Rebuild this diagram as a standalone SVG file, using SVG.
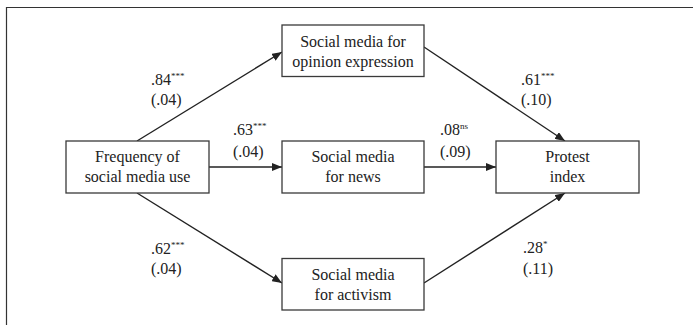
<svg xmlns="http://www.w3.org/2000/svg" width="693" height="325" viewBox="0 0 693 325">
<style>
.box{fill:#fff;stroke:#3a3a3a;stroke-width:1.3}
.t{font-family:"Liberation Serif","Times New Roman",serif;font-size:16px;fill:#222}
.c{text-anchor:middle}
.sup{font-size:9px}
.ln{stroke:#222;stroke-width:1.4;fill:none;marker-end:url(#ah)}
</style>
<defs>
<marker id="ah" viewBox="0 0 10 8" refX="10" refY="4" markerWidth="10" markerHeight="8" markerUnits="userSpaceOnUse" orient="auto">
<path d="M0,0 L10,4 L0,8 Z" fill="#222"/>
</marker>
</defs>
<rect width="693" height="325" fill="#fff"/>
<path d="M6.5,330 V7.5 H700" fill="none" stroke="#333" stroke-width="1.2"/>
<g id="connectors">
<line class="ln" x1="137" y1="141" x2="282" y2="52"/>
<line class="ln" x1="209" y1="167" x2="282" y2="167"/>
<line class="ln" x1="137" y1="193" x2="282" y2="283"/>
<line class="ln" x1="424" y1="47" x2="565" y2="141"/>
<line class="ln" x1="424" y1="167" x2="496" y2="167"/>
<line class="ln" x1="424" y1="283" x2="565" y2="193"/>
</g>
<g id="labels">
<text class="t" x="151" y="85">.84<tspan class="sup" dy="-6">***</tspan></text>
<text class="t" x="151" y="105">(.04)</text>
<text class="t" x="233" y="135">.63<tspan class="sup" dy="-6">***</tspan></text>
<text class="t" x="233" y="156.5">(.04)</text>
<text class="t" x="151" y="254">.62<tspan class="sup" dy="-6">***</tspan></text>
<text class="t" x="151" y="274">(.04)</text>
<text class="t" x="521" y="85">.61<tspan class="sup" dy="-6">***</tspan></text>
<text class="t" x="521" y="104.5">(.10)</text>
<text class="t" x="440" y="135">.08<tspan class="sup" dy="-6">ns</tspan></text>
<text class="t" x="440" y="156.5">(.09)</text>
<text class="t" x="523" y="253">.28<tspan class="sup" dy="-6">*</tspan></text>
<text class="t" x="523" y="273.5">(.11)</text>
</g>
<g id="freq">
<rect class="box" x="66" y="141" width="143" height="52"/>
<text class="t c" x="137.5" y="161.7">Frequency of</text>
<text class="t c" x="137.5" y="181.7">social media use</text>
</g>
<g id="opinion">
<rect class="box" x="282" y="25" width="142" height="51.5"/>
<text class="t c" x="353" y="46.7">Social media for</text>
<text class="t c" x="353" y="66.7">opinion expression</text>
</g>
<g id="news">
<rect class="box" x="282" y="141" width="142" height="52"/>
<text class="t c" x="353" y="161.7">Social media</text>
<text class="t c" x="353" y="181.7">for news</text>
</g>
<g id="activism">
<rect class="box" x="282" y="258.5" width="142" height="51.5"/>
<text class="t c" x="353" y="280">Social media</text>
<text class="t c" x="353" y="299.5">for activism</text>
</g>
<g id="protest">
<rect class="box" x="496" y="141" width="143" height="52"/>
<text class="t c" x="567.5" y="161.7">Protest</text>
<text class="t c" x="567.5" y="181.7">index</text>
</g>
</svg>
